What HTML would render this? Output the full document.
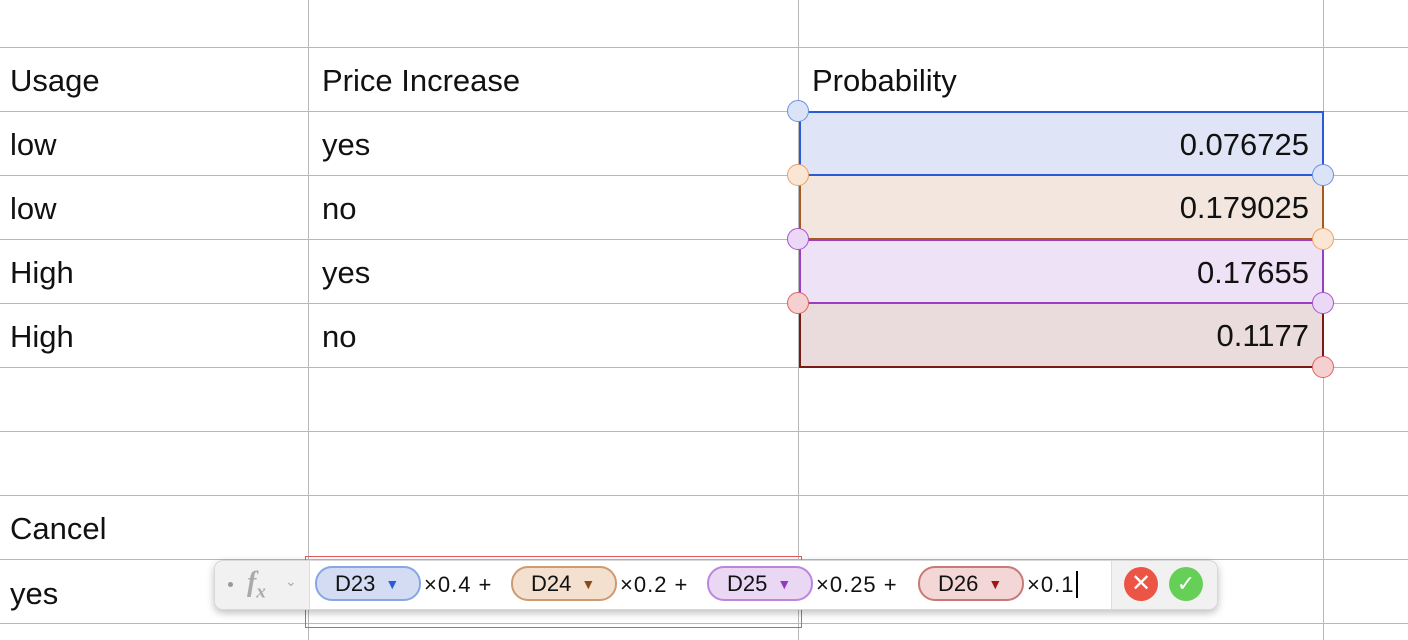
<!DOCTYPE html>
<html><head><meta charset="utf-8"><style>
body{margin:0;width:1408px;height:640px;overflow:hidden;background:#fff;font-family:"Liberation Sans",Arial,sans-serif;position:relative}
.a{position:absolute}
.vl{position:absolute;top:0;width:1px;height:640px;background:#b8b8b8}
.hl{position:absolute;left:0;width:1408px;height:1px;background:#b8b8b8}
.t{position:absolute;font-size:31px;color:#111;line-height:64px;white-space:nowrap}
.cell{position:absolute;left:799px;width:525px;height:62px;box-sizing:border-box;font-size:31px;text-align:right;padding-right:13px;line-height:64px;color:#111}
.h{position:absolute;width:22px;height:22px;border-radius:50%;box-sizing:border-box;border:1.5px solid}
.pill{position:absolute;top:566px;width:106px;height:35px;border-radius:17px;box-sizing:border-box;border:2px solid;font-size:22px;line-height:31px;color:#111;padding-left:18px}
.pill span{font-size:14px;margin-left:10px;vertical-align:2px}
.op{position:absolute;top:566px;line-height:37px;font-size:22px;color:#111;letter-spacing:1px;white-space:nowrap}
</style></head><body>
<div class="vl" style="left:308px"></div>
<div class="vl" style="left:798px"></div>
<div class="vl" style="left:1323px"></div>
<div class="hl" style="top:47px"></div>
<div class="hl" style="top:111px"></div>
<div class="hl" style="top:175px"></div>
<div class="hl" style="top:239px"></div>
<div class="hl" style="top:303px"></div>
<div class="hl" style="top:367px"></div>
<div class="hl" style="top:431px"></div>
<div class="hl" style="top:495px"></div>
<div class="hl" style="top:559px"></div>
<div class="hl" style="top:623px"></div>

<div class="t" style="left:10px;top:49px">Usage</div>
<div class="t" style="left:322px;top:49px">Price Increase</div>
<div class="t" style="left:812px;top:49px">Probability</div>
<div class="t" style="left:10px;top:113px">low</div>
<div class="t" style="left:322px;top:113px">yes</div>
<div class="t" style="left:10px;top:177px">low</div>
<div class="t" style="left:322px;top:177px">no</div>
<div class="t" style="left:10px;top:241px">High</div>
<div class="t" style="left:322px;top:241px">yes</div>
<div class="t" style="left:10px;top:305px">High</div>
<div class="t" style="left:322px;top:305px">no</div>
<div class="t" style="left:10px;top:497px">Cancel</div>
<div class="t" style="left:10px;top:562px">yes</div>

<div class="cell" style="top:111px;height:65px;background:#dfe5f7;border:2px solid #2a5bd7">0.076725</div>
<div class="cell" style="top:176px;height:64px;background:#f2e6de;border:2px solid #a85a1e;border-top:none">0.179025</div>
<div class="cell" style="top:239px;height:65px;background:#eee2f6;border:2px solid #9a3fc4">0.17655</div>
<div class="cell" style="top:304px;height:64px;background:#eadcdc;border:2px solid #7a1a14;border-top:none">0.1177</div>

<div class="h" style="left:787px;top:100px;background:#dbe3f6;border-color:#6b8fe8"></div>
<div class="h" style="left:1312px;top:164px;background:#dbe3f6;border-color:#6b8fe8"></div>
<div class="h" style="left:787px;top:164px;background:#fae6d4;border-color:#f0a060"></div>
<div class="h" style="left:1312px;top:228px;background:#fae6d4;border-color:#f0a060"></div>
<div class="h" style="left:787px;top:228px;background:#ead8f6;border-color:#a552d0"></div>
<div class="h" style="left:1312px;top:292px;background:#ead8f6;border-color:#a552d0"></div>
<div class="h" style="left:787px;top:292px;background:#f5d0d0;border-color:#e06060"></div>
<div class="h" style="left:1312px;top:356px;background:#f5d0d0;border-color:#e06060"></div>

<div class="a" style="left:305px;top:556px;width:497px;height:72px;border:1.5px solid #e05a5a;box-sizing:border-box"></div>

<div class="a" style="left:214px;top:560px;width:1002px;height:48px;border-radius:9px;background:#fff;border:1px solid #d8d8d8;box-shadow:0 3px 8px rgba(0,0,0,.25);overflow:hidden">
  <div class="a" style="left:0;top:0;width:94px;height:48px;background:#f1f1f1;border-right:1px solid #ddd">
    <span class="a" style="left:13px;top:21px;width:5px;height:5px;border-radius:50%;background:#999"></span>
    <span class="a" style="left:32px;top:6px;font-family:'Liberation Serif',serif;font-style:italic;font-weight:bold;font-size:28px;color:#aaa">f<sub style="font-size:19px">x</sub></span>
    <span class="a" style="left:70px;top:12px;font-size:14px;color:#aaa">⌄</span>
  </div>
  <div class="a" style="left:896px;top:0;width:106px;height:48px;background:#f1f1f1;border-left:1px solid #ddd"></div>
</div>
<div class="a" style="left:1124px;top:567px;width:34px;height:34px;border-radius:50%;background:#ec5545;color:#fff;font-size:24px;text-align:center;line-height:34px">✕</div>
<div class="a" style="left:1169px;top:567px;width:34px;height:34px;border-radius:50%;background:#66cf58;color:#fff;font-size:22px;text-align:center;line-height:34px">✓</div>

<div class="pill" style="left:315px;background:#d3dcf3;border-color:#88a5e6">D23<span style="color:#2a5bd7">▼</span></div>
<div class="op" style="left:424px">×0.4 +</div>
<div class="pill" style="left:511px;background:#f4e0cf;border-color:#cf9a70">D24<span style="color:#8a4a1a">▼</span></div>
<div class="op" style="left:620px">×0.2 +</div>
<div class="pill" style="left:707px;background:#ead7f4;border-color:#bc86dc">D25<span style="color:#8e3cc0">▼</span></div>
<div class="op" style="left:816px">×0.25 +</div>
<div class="pill" style="left:918px;background:#f3d6d6;border-color:#c77a78">D26<span style="color:#9a1a14">▼</span></div>
<div class="op" style="left:1027px">×0.1</div>
<div class="a" style="left:1076px;top:571px;width:2px;height:27px;background:#000"></div>
</body></html>
